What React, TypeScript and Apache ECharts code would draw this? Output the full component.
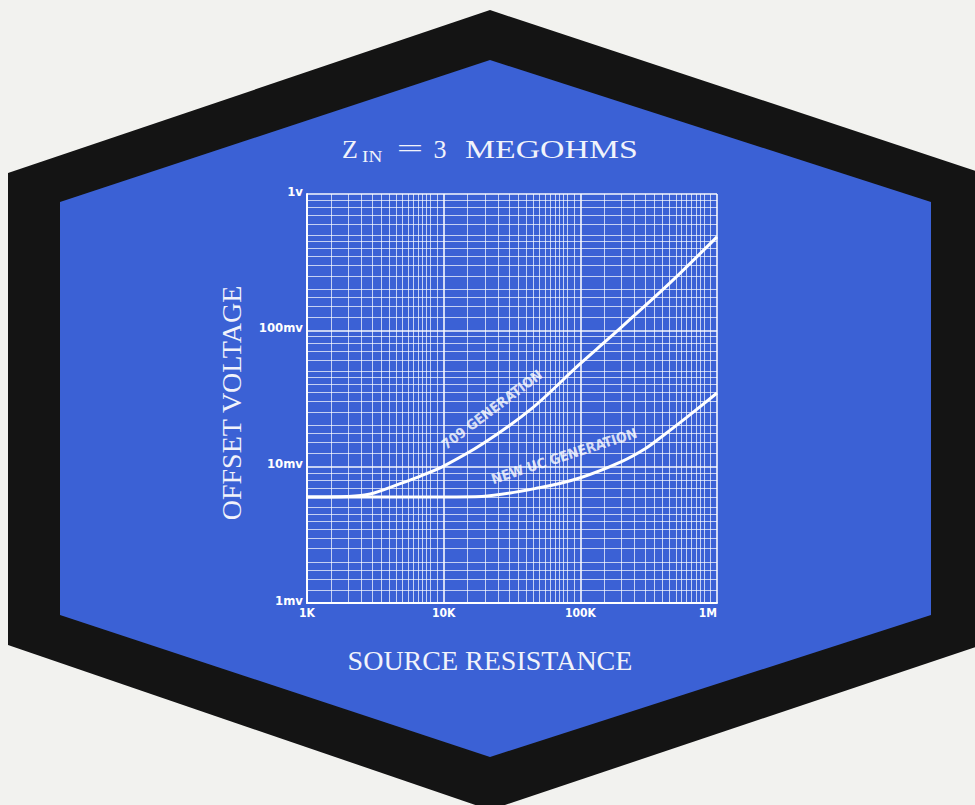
import React, { useEffect, useRef } from 'react';
import * as echarts from 'echarts';

// Axis ticks (resistance in ohms, offset voltage in millivolts)
const xTickValues = [1000, 10000, 100000, 1000000];
const xTickLabels = ['1K', '10K', '100K', '1M'];
const yTickValues = [1, 10, 100, 1000];
const yTickLabels = ['1mv', '10mv', '100mv', '1v'];

// Fine log-paper rulings inside each decade
const xDecades = [1000, 10000, 100000];
const xMinorSteps = [1.5, 2, 2.5, 3, 3.5, 4, 4.5, 5, 5.5, 6, 6.5, 7, 7.5, 8, 9];
const yDecades = [1, 10, 100];
const yMinorSteps = [1.25, 1.5, 1.75, 2, 2.5, 3, 3.5, 4, 4.5, 5, 6, 7, 8, 9];

// 709 generation curve
const gen709Resistance = [1000, 2000, 2900, 4800, 6700, 10000, 19300, 44700, 98000, 163000, 447000, 1000000];
const gen709Offset = [6, 6.05, 6.3, 7.5, 8.5, 10.1, 14.7, 27, 56, 88, 220, 485];

// New UC generation curve
const ucResistance = [1000, 10000, 19000, 50000, 100000, 200000, 300000, 400000, 600000, 1000000];
const ucOffset = [6, 6, 6.05, 7.0, 8.3, 10.9, 13.6, 16.8, 23, 34.7];

// Curve annotations (anchored in data coordinates)
const label709Text = '709 GENERATION';
const label709At = [22500, 26.3];
const labelUCText = 'NEW UC GENERATION';
const labelUCAt = [76000, 12.0];

const BG = '#f2f2ef';
const HEX_DARK = '#141414';
const BLUE = '#3b61d5';
const TEXT = '#f1f3fb';
const SERIF = '"Liberation Serif", "Times New Roman", serif';
const COND = '"DejaVu Sans Condensed", "Liberation Sans Narrow", sans-serif';

function fmt(values: number[], labels: string[]) {
  return (v: number) => {
    const e = Math.round(Math.log10(v));
    const i = values.findIndex((t) => Math.round(Math.log10(t)) === e);
    return i >= 0 ? labels[i] : '';
  };
}

export default function App() {
  const ref = useRef<HTMLDivElement>(null);

  useEffect(() => {
    if (!ref.current) return;
    const chart = echarts.init(ref.current, undefined, { renderer: 'svg' });

    const minorX: any[] = [];
    xDecades.forEach((d) => xMinorSteps.forEach((s) => minorX.push({ xAxis: d * s })));
    const minorY: any[] = [];
    yDecades.forEach((d) => yMinorSteps.forEach((s) => minorY.push({ yAxis: d * s })));

    const outer = [[490, 10], [982, 173], [982, 645], [490, 810], [8, 645], [8, 173]];
    const inner = [[490, 60], [931, 202], [931, 615], [490, 757], [60, 615], [60, 202]];

    const option: any = {
      animation: false,
      backgroundColor: BG,
      graphic: [
        { type: 'polygon', z: -20, silent: true, shape: { points: outer }, style: { fill: HEX_DARK } },
        { type: 'polygon', z: -19, silent: true, shape: { points: inner }, style: { fill: BLUE } },
        { type: 'text', z: 50, x: 342, y: 149, style: { text: 'Z', fontFamily: SERIF, fontSize: 26, fill: TEXT, align: 'left', verticalAlign: 'middle' } },
        { type: 'text', z: 50, x: 362, y: 157, style: { text: 'IN', fontFamily: SERIF, fontSize: 16, fill: TEXT, align: 'left', verticalAlign: 'middle' }, scaleX: 1.2 },
        { type: 'text', z: 50, x: 410, y: 148, style: { text: '=', fontFamily: SERIF, fontSize: 26, fill: TEXT, align: 'center', verticalAlign: 'middle' }, scaleX: 1.8 },
        { type: 'text', z: 50, x: 440, y: 149, style: { text: '3', fontFamily: SERIF, fontSize: 26, fill: TEXT, align: 'center', verticalAlign: 'middle' } },
        { type: 'text', z: 50, x: 465, y: 149, style: { text: 'MEGOHMS', fontFamily: SERIF, fontSize: 26, fill: TEXT, align: 'left', verticalAlign: 'middle' }, scaleX: 1.3 },
      ],
      grid: { left: 307, top: 194, width: 410, height: 409, containLabel: false },
      xAxis: {
        type: 'log',
        logBase: 10,
        min: 1000,
        max: 1000000,
        name: 'SOURCE RESISTANCE',
        nameLocation: 'middle',
        nameGap: 43,
        nameTextStyle: { fontFamily: SERIF, fontSize: 28, color: TEXT, padding: [0, 44, 0, 0] },
        axisLine: { show: true, lineStyle: { color: '#ffffff', width: 2 } },
        axisTick: { show: false },
        axisLabel: {
          margin: 4,
          formatter: fmt(xTickValues, xTickLabels),
          fontFamily: COND,
          fontWeight: 'bold',
          fontSize: 12,
          color: '#ffffff',
          alignMinLabel: 'left',
          alignMaxLabel: 'right',
        },
        splitLine: { show: true, showMinLine: true, showMaxLine: true, lineStyle: { color: 'rgba(255,255,255,0.95)', width: 1.6 } },
      },
      yAxis: {
        type: 'log',
        logBase: 10,
        min: 1,
        max: 1000,
        name: 'OFFSET VOLTAGE',
        nameLocation: 'middle',
        nameGap: 62,
        nameRotate: 90,
        nameTextStyle: { fontFamily: SERIF, fontSize: 28, color: TEXT, padding: [0, 9, 0, 0] },
        axisLine: { show: true, lineStyle: { color: '#ffffff', width: 2 } },
        axisTick: { show: false },
        axisLabel: {
          margin: 4,
          formatter: fmt(yTickValues, yTickLabels),
          fontFamily: COND,
          fontWeight: 'bold',
          fontSize: 13,
          color: '#ffffff',
          verticalAlign: 'bottom',
          lineHeight: 6,
        },
        splitLine: { show: true, showMinLine: true, showMaxLine: true, lineStyle: { color: 'rgba(255,255,255,0.95)', width: 1.6 } },
      },
      series: [
        {
          name: 'grid',
          type: 'line',
          data: [],
          silent: true,
          z: 1,
          markLine: {
            silent: true,
            symbol: ['none', 'none'],
            label: { show: false },
            emphasis: { disabled: true },
            lineStyle: { color: 'rgba(255,255,255,0.7)', width: 1, type: 'solid' },
            data: [...minorX, ...minorY],
          },
        },
        {
          name: '709 GENERATION',
          type: 'line',
          z: 4,
          smooth: 0.3,
          showSymbol: false,
          lineStyle: { color: '#ffffff', width: 3 },
          data: gen709Resistance.map((r, i) => [r, gen709Offset[i]]),
        },
        {
          name: 'NEW UC GENERATION',
          type: 'line',
          z: 4,
          smooth: 0.3,
          showSymbol: false,
          lineStyle: { color: '#ffffff', width: 3 },
          data: ucResistance.map((r, i) => [r, ucOffset[i]]),
        },
        {
          name: 'labels',
          type: 'scatter',
          z: 5,
          silent: true,
          symbolSize: 1,
          itemStyle: { color: 'rgba(0,0,0,0)' },
          label: {
            show: true,
            position: 'inside',
            color: '#ffffff',
            fontFamily: COND,
            fontWeight: 'bold',
            fontSize: 14,
          },
          data: [
            { value: label709At, label: { formatter: label709Text, rotate: 37 } },
            { value: labelUCAt, label: { formatter: labelUCText, rotate: 18 } },
          ],
        },
      ],
    };

    chart.setOption(option);
    return () => chart.dispose();
  }, []);

  return <div ref={ref} style={{ position: 'fixed', left: 0, top: 0, width: 975, height: 805 }} />;
}
